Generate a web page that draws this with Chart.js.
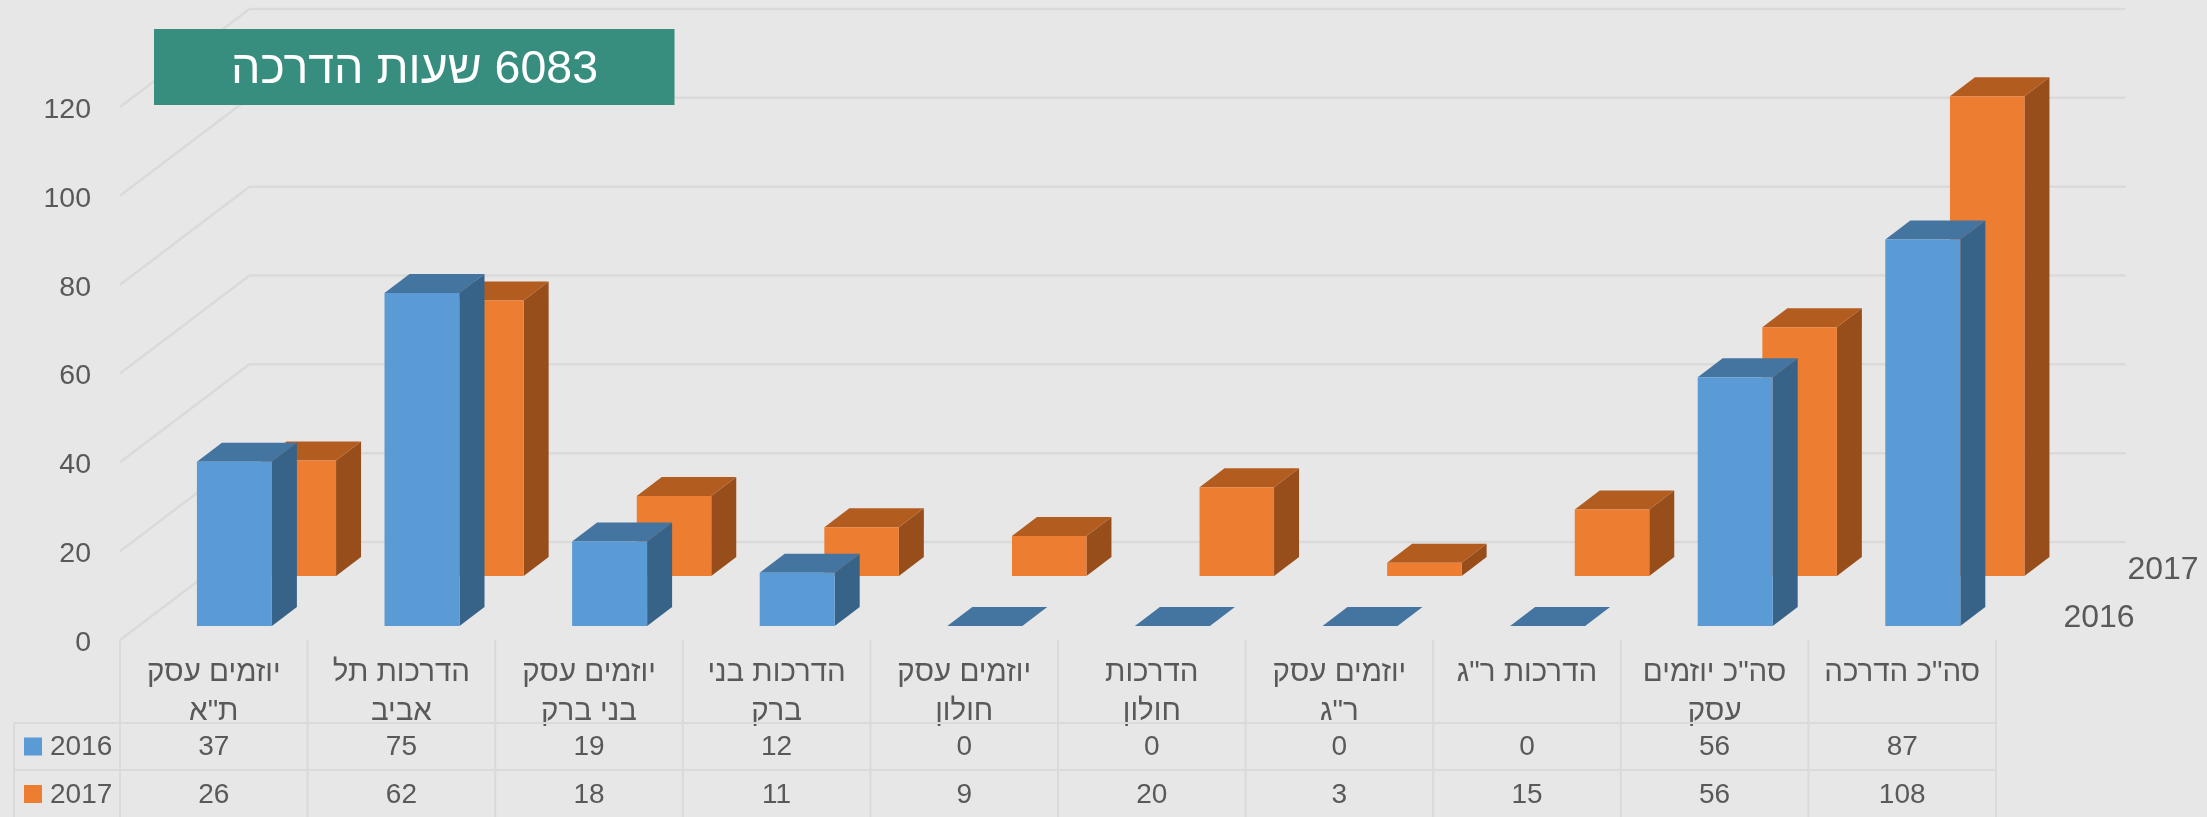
<!DOCTYPE html>
<html lang="he">
<head>
<meta charset="utf-8">
<title>6083 שעות הדרכה</title>
<style>
html,body{margin:0;padding:0;background:#E7E7E7;overflow:hidden}
canvas{display:block}
</style>
<script src="https://cdn.jsdelivr.net/npm/chart.js@4"></script>
</head>
<body>
<canvas id="c" width="2207" height="817"></canvas>
<script>
const categories = [
  ['יוזמים עסק','ת"א'],
  ['הדרכות תל','אביב'],
  ['יוזמים עסק','בני ברק'],
  ['הדרכות בני','ברק'],
  ['יוזמים עסק','חולון'],
  ['הדרכות','חולון'],
  ['יוזמים עסק','ר"ג'],
  ['הדרכות ר"ג'],
  ['סה"כ יוזמים','עסק'],
  ['סה"כ הדרכה']
];
const series2016 = [37,75,19,12,0,0,0,0,56,87];
const series2017 = [26,62,18,11,9,20,3,15,56,108];
const seriesNames = ['2016','2017'];
const yTicks = [0,20,40,60,80,100,120];
const titleText = '6083 שעות הדרכה';

const FONT = '"Liberation Sans", Arial, sans-serif';
const TEXT = '#595959', GRID = '#DADADA', BG = '#E7E7E7';
const faces = [
  {front:'#5B9BD5', side:'#386388', top:'#4474A0'},
  {front:'#ED7D31', side:'#974E1B', top:'#B35C20'}
];
const NUDGE = 3;   // tick labels sit this far below their gridlines
const barW = [75,74.5];
const shift = [{x:20.6,y:-14-NUDGE},{x:85,y:-64-NUDGE}];   // position of each series row in the depth of the plot
const barDepth = {x:25,y:-19};
const wallDepth = {x:129.5,y:-98};
const rowLines = [723,770];
const rowCentres = [746.5,794];

function poly(ctx,pts,fill){
  ctx.fillStyle=fill;ctx.beginPath();
  pts.forEach((p,i)=>i?ctx.lineTo(p[0],p[1]):ctx.moveTo(p[0],p[1]));
  ctx.closePath();ctx.fill();
}

const bars3d = {
  id:'bars3d',
  afterDatasetsUpdate(chart){
    const xs=chart.scales.x, ys=chart.scales.y;
    chart.data.datasets.forEach((ds,d)=>{
      chart.getDatasetMeta(d).data.forEach((el,i)=>{
        el.x = xs.getPixelForValue(i)+shift[d].x;
        el.y = ys.getPixelForValue(ds.data[i])+shift[d].y;
        el.base = ys.getPixelForValue(0)+shift[d].y;
        el.height = el.base-el.y;
        el.width = barW[d];
      });
    });
  },
  beforeDatasetsDraw(chart){
    const {ctx,chartArea:a,scales:{y:ys}}=chart;
    ctx.save();
    ctx.strokeStyle=GRID;ctx.lineWidth=2.5;
    yTicks.forEach(v=>{
      const py=ys.getPixelForValue(v)-NUDGE;
      ctx.beginPath();
      ctx.moveTo(a.left,py);
      ctx.lineTo(a.left+wallDepth.x,py+wallDepth.y);
      ctx.lineTo(a.right+wallDepth.x,py+wallDepth.y);
      ctx.stroke();
    });
    ctx.restore();
  },
  beforeDatasetDraw(chart,args){
    const {ctx}=chart, c=faces[args.index], w=barW[args.index];
    ctx.save();
    args.meta.data.forEach(el=>{
      const l=el.x-w/2,r=el.x+w/2,t=el.y,b=el.base,dx=barDepth.x,dy=barDepth.y;
      if(b>t) poly(ctx,[[r,t],[r+dx,t+dy],[r+dx,b+dy],[r,b]],c.side);
      poly(ctx,[[l,t],[l+dx,t+dy],[r+dx,t+dy],[r,t]],c.top);
    });
    ctx.restore();
  },
  afterDraw(chart){
    const {ctx,chartArea:a,scales:{x:xs}}=chart;
    const h=chart.height, n=categories.length, cw=(a.right-a.left)/n;
    ctx.save();
    // data table lines
    const tableTop=a.bottom-NUDGE;
    ctx.strokeStyle=GRID;ctx.lineWidth=2;
    for(let i=0;i<=n;i++){
      const px=a.left+cw*i;
      ctx.beginPath();ctx.moveTo(px,tableTop);ctx.lineTo(px,h);ctx.stroke();
    }
    ctx.beginPath();ctx.moveTo(14,rowLines[0]);ctx.lineTo(14,h);ctx.stroke();
    rowLines.forEach(py=>{ctx.beginPath();ctx.moveTo(14,py);ctx.lineTo(a.right,py);ctx.stroke();});
    // table cells
    ctx.font='28px '+FONT;ctx.textBaseline='middle';
    chart.data.datasets.forEach((ds,d)=>{
      const cy=rowCentres[d];
      ctx.fillStyle=faces[d].front;ctx.fillRect(24,cy-9,18,18);
      ctx.fillStyle=TEXT;ctx.textAlign='left';ctx.fillText(ds.label,50,cy+1);
      ctx.textAlign='center';
      ds.data.forEach((v,i)=>ctx.fillText(String(v),xs.getPixelForValue(i),cy+1));
    });
    // series axis labels
    ctx.font='32px '+FONT;ctx.fillStyle=TEXT;ctx.textAlign='center';
    ctx.fillText(seriesNames[0],a.right+103,618);
    ctx.fillText(seriesNames[1],a.right+167,570);
    // title box
    ctx.fillStyle='#378D7E';ctx.fillRect(154,29,520.5,76);
    ctx.fillStyle='#FFFFFF';ctx.font='46.5px '+FONT;ctx.direction='rtl';
    ctx.textAlign='center';ctx.fillText(titleText,414.5,70.5);
    ctx.restore();
  }
};

new Chart(document.getElementById('c'),{
  type:'bar',
  data:{
    labels:categories,
    datasets:[
      {label:seriesNames[0],data:series2016,backgroundColor:faces[0].front,borderWidth:0,clip:false},
      {label:seriesNames[1],data:series2017,backgroundColor:faces[1].front,borderWidth:0,clip:false}
    ]
  },
  plugins:[bars3d],
  options:{
    responsive:false,
    animation:false,
    layout:{padding:{top:107+NUDGE,right:211,bottom:0,left:0}},
    plugins:{legend:{display:false},title:{display:false},tooltip:{enabled:false}},
    scales:{
      x:{
        grid:{display:false,drawTicks:false},border:{display:false},
        afterFit(s){s.height=177-NUDGE;},
        ticks:{autoSkip:false,maxRotation:0,minRotation:0,padding:10.5,color:TEXT,
          font:{family:FONT,size:29.5,lineHeight:1.32}}
      },
      y:{
        min:0,max:120,
        afterFit(s){s.width=120;},
        grid:{display:false,drawTicks:false},border:{display:false},
        ticks:{stepSize:20,padding:29,color:TEXT,font:{family:FONT,size:28.5}}
      }
    }
  }
});
</script>
</body>
</html>
